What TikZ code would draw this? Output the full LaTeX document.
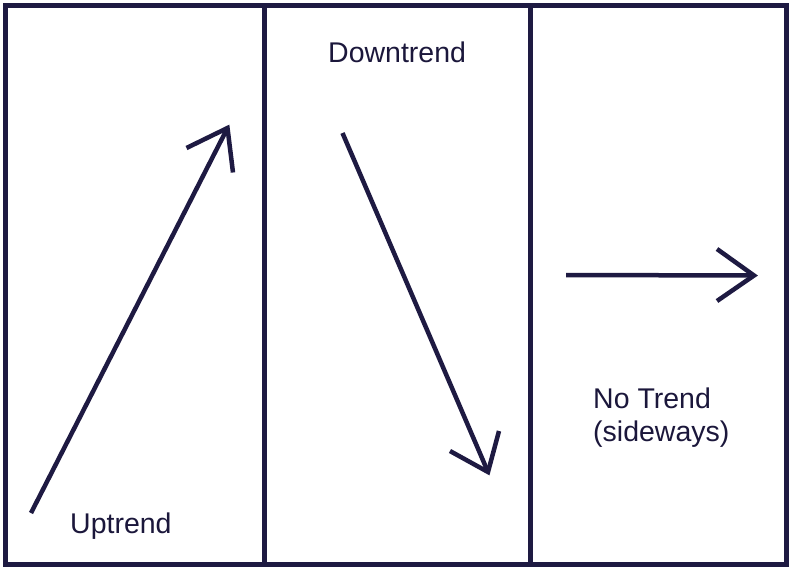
\documentclass[tikz,border=0pt]{standalone}
\usepackage{fontspec}
\setmainfont{Liberation Sans}
\definecolor{ink}{RGB}{30,26,66}
\tikzset{
  frameline/.style={draw=ink, line width=5pt},
  trendline/.style={draw=ink, line width=4.5pt},
  headline/.style={draw=ink, line width=4.5pt, line join=miter},
  lbl/.style={anchor=base west, inner sep=0pt, text=ink!90!black, font=\fontsize{28.5pt}{32pt}\selectfont}
}
\begin{document}
\begin{tikzpicture}[x=1pt,y=-1pt]
\useasboundingbox (0,0) rectangle (803,570);
% frame and dividers
\coordinate (tl) at (5.5,5.5);
\coordinate (br) at (786.5,564.5);
\coordinate (d1t) at (264.5,5.5);
\coordinate (d1b) at (264.5,564.5);
\coordinate (d2t) at (530.5,5.5);
\coordinate (d2b) at (530.5,564.5);
\draw[frameline] (tl) rectangle (br);
\draw[frameline] (d1t) -- (d1b);
\draw[frameline] (d2t) -- (d2b);
% uptrend arrow
\coordinate (us) at (31,513);
\coordinate (ut) at (227.5,128);
\coordinate (ua) at (186.5,148);
\coordinate (ub) at (233,172.5);
\draw[trendline] (us) -- (ut);
\draw[headline] (ua) -- (ut) -- (ub);
% downtrend arrow
\coordinate (ds) at (342.5,133);
\coordinate (dt) at (488,472);
\coordinate (da) at (450,451);
\coordinate (db) at (499,431);
\draw[trendline] (ds) -- (dt);
\draw[headline] (da) -- (dt) -- (db);
% sideways arrow
\coordinate (ss) at (566,275);
\coordinate (st) at (754,275.5);
\coordinate (sa) at (717,249);
\coordinate (sb) at (717,301);
\draw[trendline] (ss) -- (st);
\draw[headline] (sa) -- (st) -- (sb);
% labels
\node[lbl] (up) at (70,533) {Uptrend};
\node[lbl] (down) at (328,62) {Downtrend};
\node[lbl] (no) at (593,408) {No Trend};
\node[lbl] (side) at (593,441) {(sideways)};
\end{tikzpicture}
\end{document}
